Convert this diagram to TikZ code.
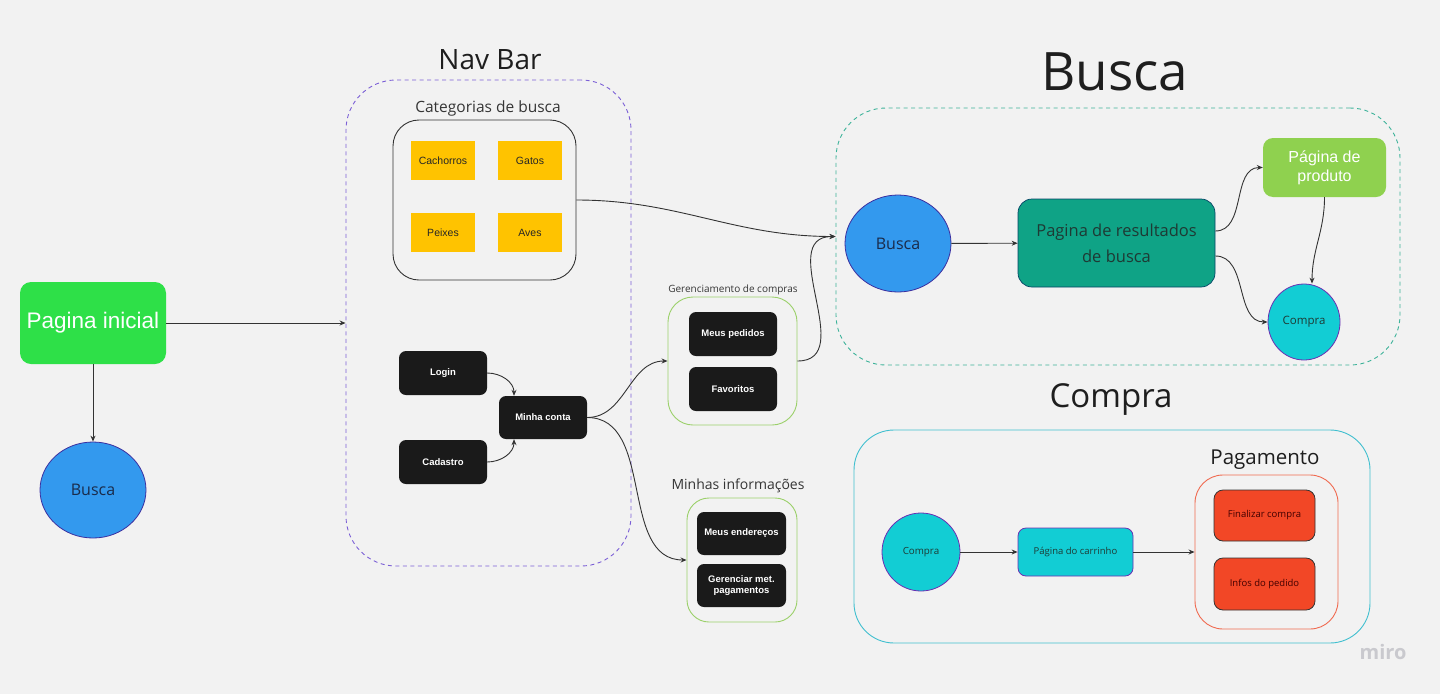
\documentclass[tikz,border=0pt]{standalone}
\usepackage{fontspec}
\setmainfont{Open Sans}
\newfontfamily\arialf{Liberation Sans}
\usetikzlibrary{shapes.geometric,arrows.meta}
\definecolor{bgc}{HTML}{F2F2F2}
\definecolor{linec}{HTML}{333333}
\definecolor{greenA}{HTML}{2EE048}
\definecolor{blueA}{HTML}{3399EE}
\definecolor{blueB}{HTML}{3B2FA0}
\definecolor{navyT}{HTML}{1A2B4A}
\definecolor{yel}{HTML}{FFC300}
\definecolor{blk}{HTML}{1A1A1A}
\definecolor{grnB}{HTML}{9BD06A}
\definecolor{tealA}{HTML}{0FA386}
\definecolor{tealT}{HTML}{1E3A34}
\definecolor{lime}{HTML}{8FD14F}
\definecolor{cyanA}{HTML}{12CDD4}
\definecolor{purpB}{HTML}{6A2FB3}
\definecolor{cyanB}{HTML}{40BFCF}
\definecolor{redB}{HTML}{F06A50}
\definecolor{redA}{HTML}{F24726}
\definecolor{navP}{HTML}{7B5FD6}
\definecolor{busT}{HTML}{3DB39A}
\definecolor{titleC}{HTML}{1E1E1E}
\definecolor{miroC}{HTML}{C9C9CE}
\tikzset{
  conn/.style={draw=linec, line width=0.9pt, -{Stealth[length=6pt,width=5pt]}},
  rbox/.style={rectangle, rounded corners=#1, inner sep=0pt, align=center},
  ybox/.style={rbox=0pt, fill=yel, minimum width=64pt, minimum height=39pt,
    font=\arialf\fontsize{10.5}{12}\selectfont, text=black!85},
  kbox/.style={rbox=7pt, fill=blk, minimum width=88pt, minimum height=44pt,
    font=\arialf\bfseries\fontsize{9.5}{11.5}\selectfont, text=white},
  oval/.style={ellipse, inner sep=0pt, line width=0.8pt},
  lbl/.style={inner sep=0pt, text=titleC},
}
\begin{document}
\begin{tikzpicture}[x=1pt,y=-1pt]
\fill[bgc] (0,0) rectangle (1440,694);
\useasboundingbox (0,0) rectangle (1440,694);

% ---- left
\node[rbox=11pt, fill=greenA, minimum width=146pt, minimum height=82pt,
  font=\arialf\fontsize{22.5}{26}\selectfont, text=white] (pinicial) at (93,323) {Pagina inicial};
\node[oval, fill=blueA, draw=blueB, minimum width=106pt, minimum height=96pt,
  font=\fontsize{16}{19}\selectfont, text=navyT] (buscaL) at (93,490) {Busca};

% ---- nav bar
\node[lbl, font=\fontsize{28}{32}\selectfont] (navtitle) at (490,60) {Nav Bar};
\node[rbox=50pt, draw=navP, dash pattern=on 4pt off 3.5pt, line width=0.9pt, minimum width=285pt, minimum height=486pt] (navbar) at (488.5,323) {};
\node[lbl, font=\fontsize{15.5}{18}\selectfont, text=titleC!90] (catlbl) at (488,108) {Categorias de busca};
\node[rbox=26pt, draw=linec, line width=0.9pt, minimum width=183pt, minimum height=160pt] (catbox) at (484.5,200) {};
\node[ybox] (cach) at (443,160.5) {Cachorros};
\node[ybox] (gatos) at (530,160.5) {Gatos};
\node[ybox] (peixes) at (443,232.5) {Peixes};
\node[ybox] (aves) at (530,232.5) {Aves};

\node[kbox] (login) at (443,373) {Login};
\node[kbox] (cadastro) at (443,462) {Cadastro};
\node[kbox, minimum height=43pt] (conta) at (543,417.5) {Minha conta};

% ---- gerenciamento
\node[lbl, font=\fontsize{10}{12}\selectfont, text=titleC!90] (gerlbl) at (733,290) {Gerenciamento de compras};
\node[rbox=25pt, draw=grnB, line width=0.9pt, minimum width=129pt, minimum height=128pt] (gerbox) at (732.5,361) {};
\node[kbox] (pedidos) at (733,334) {Meus pedidos};
\node[kbox] (favoritos) at (733,389) {Favoritos};

% ---- minhas informacoes
\node[lbl, font=\fontsize{14}{17}\selectfont, text=titleC!90] (infolbl) at (738,486) {Minhas informações};
\node[rbox=22pt, draw=grnB, line width=0.9pt, minimum width=110pt, minimum height=124pt] (infobox) at (742,560) {};
\node[kbox, minimum width=89pt, minimum height=43pt] (enderecos) at (741.5,533.5) {Meus endereços};
\node[kbox, minimum width=89pt, minimum height=43pt] (gerenciar) at (741.5,585.5) {Gerenciar met.\\pagamentos};

% ---- busca
\node[lbl, font=\fontsize{53}{60}\selectfont] (bustitle) at (1115,72) {Busca};
\node[rbox=50pt, draw=busT, dash pattern=on 4pt off 3.5pt, line width=0.9pt, minimum width=564pt, minimum height=257pt] (buscabox) at (1118,236.5) {};
\node[oval, fill=blueA, draw=blueB, minimum width=106pt, minimum height=97pt,
  font=\fontsize{16}{19}\selectfont, text=navyT] (buscaR) at (898,243.5) {Busca};
\node[rbox=14pt, fill=tealA, draw=tealA!70!blue!60!black, line width=0.7pt, minimum width=197pt, minimum height=88pt,
  font=\fontsize{16.5}{26}\selectfont, text=tealT] (result) at (1116.5,243) {Pagina de resultados\\de busca};
\node[rbox=10pt, fill=lime, minimum width=123pt, minimum height=59pt,
  font=\arialf\fontsize{16}{19}\selectfont, text=white] (produto) at (1324.5,167.5) {Página de\\produto};
\node[oval, fill=cyanA, draw=purpB, minimum width=72pt, minimum height=76pt,
  font=\fontsize{11.5}{14}\selectfont, text=tealT] (compra1) at (1304,322) {Compra};

% ---- compra
\node[lbl, font=\fontsize{33}{38}\selectfont] (comtitle) at (1111,400) {Compra};
\node[rbox=40pt, draw=cyanB, line width=0.9pt, minimum width=516pt, minimum height=213pt] (comprabox) at (1112,536.5) {};
\node[oval, fill=cyanA, draw=purpB, minimum width=78pt, minimum height=78pt,
  font=\fontsize{9.8}{12}\selectfont, text=tealT] (compra2) at (921,552) {Compra};
\node[rbox=8pt, fill=cyanA, draw=purpB, line width=0.8pt, minimum width=115pt, minimum height=48pt,
  font=\fontsize{9.5}{12}\selectfont, text=tealT] (carrinho) at (1075.5,552) {Página do carrinho};
\node[lbl, font=\fontsize{20.5}{24}\selectfont] (paglbl) at (1265,460) {Pagamento};
\node[rbox=28pt, draw=redB, line width=0.9pt, minimum width=143pt, minimum height=154pt] (pagbox) at (1266.5,552) {};
\node[rbox=9pt, fill=redA, draw=linec, line width=0.8pt, minimum width=101pt, minimum height=51pt,
  font=\fontsize{9.5}{12}\selectfont, text=black!75!red] (finalizar) at (1264.5,515.5) {Finalizar compra};
\node[rbox=9pt, fill=redA, draw=linec, line width=0.8pt, minimum width=101pt, minimum height=52pt,
  font=\fontsize{9.5}{12}\selectfont, text=black!75!red] (infos) at (1264.5,584) {Infos do pedido};

% ---- watermark
\node[inner sep=0pt, font=\bfseries\fontsize{20}{24}\selectfont, text=miroC] (miro) at (1383,652) {miro};

% ---- connectors
\draw[conn] (pinicial) -- (navbar.west);
\draw[conn] (pinicial) -- (buscaL);
\draw[conn] (catbox.east) to[out=0,in=180] (buscabox.west);
\draw[conn] (gerbox.east) to[out=0,in=180,looseness=1.2] (buscabox.west);
\draw[conn] (login.east) to[out=0,in=90] (conta.north west -| {(514,0)});
\draw[conn] (cadastro.east) to[out=0,in=-90] (conta.south west -| {(514,0)});
\draw[conn] (conta.east) to[out=0,in=180] (gerbox.west);
\draw[conn] (conta.east) to[out=0,in=180] (infobox.west);
\draw[conn] (buscaR) -- (result);
\draw[conn] ([yshift=12pt]result.east) to[out=0,in=180] (produto.west);
\draw[conn] ([yshift=-13pt]result.east) to[out=0,in=180] (compra1.west);
\draw[conn] (produto.south) to[out=-90,in=90] ([xshift=8pt]compra1.north);
\draw[conn] (compra2) -- (carrinho);
\draw[conn] (carrinho) -- (pagbox.west);
\end{tikzpicture}
\end{document}
